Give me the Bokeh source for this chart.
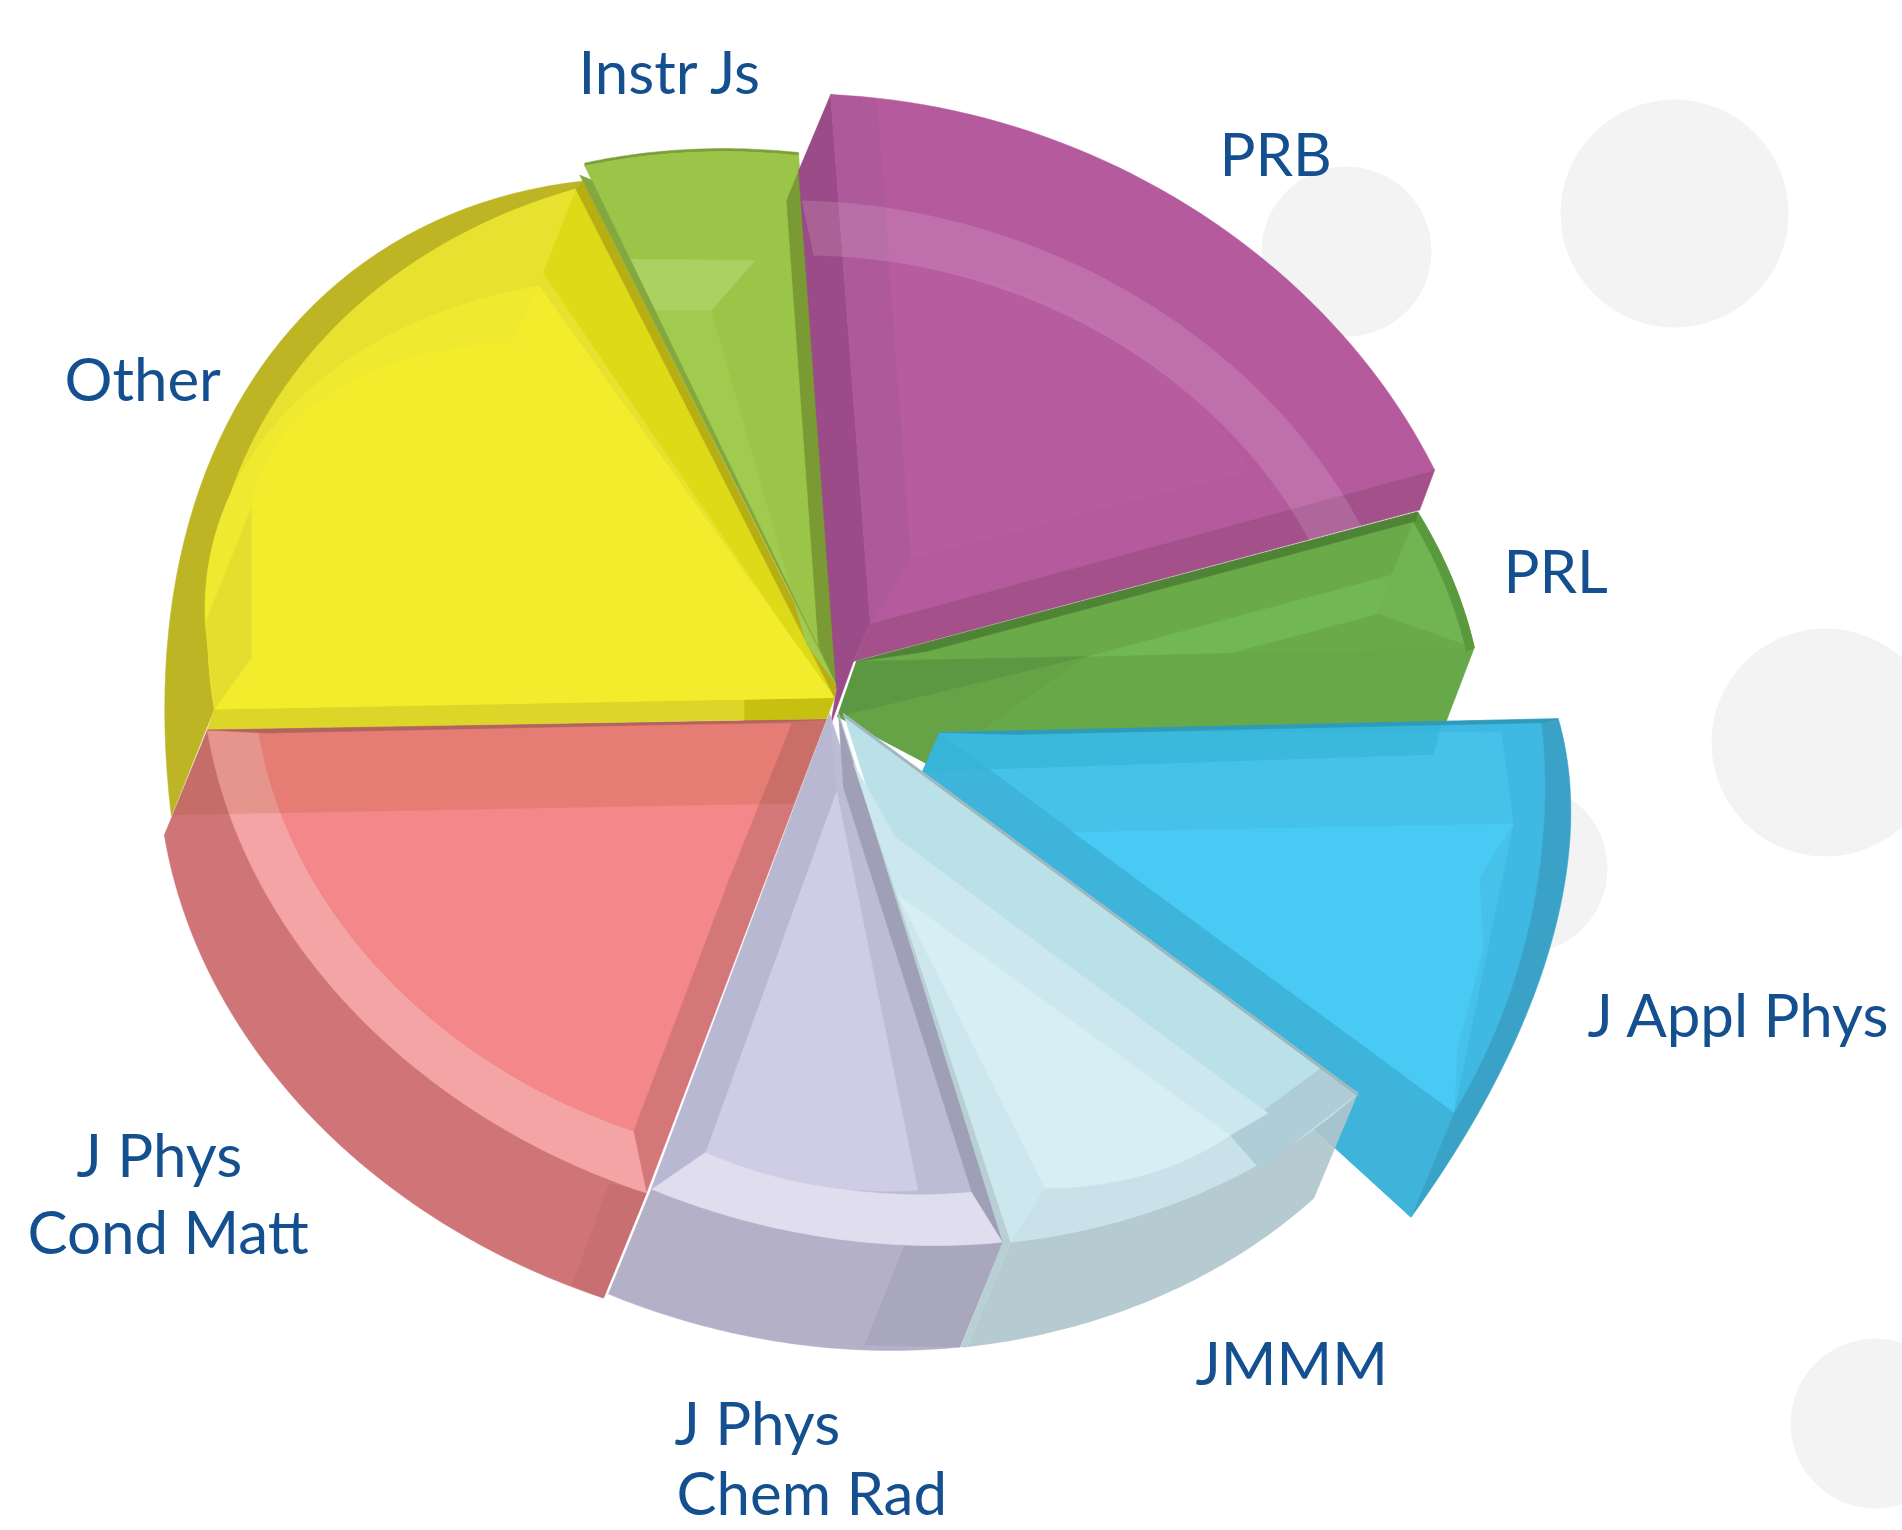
import math
from bokeh.plotting import figure
from bokeh.embed import file_html
from bokeh.resources import INLINE
from bokeh.core.properties import value

# ---------- data ----------
categories = ["PRB", "PRL", "J Appl Phys", "JMMM", "J Phys Chem Rad", "J Phys Cond Matt", "Other", "Instr Js"]
shares = [18.9, 4.5, 13.8, 10.1, 9.0, 17.8, 20.3, 5.6]
label_lines = ["PRB", "PRL", "J Appl Phys", "JMMM", "J Phys", "Chem Rad", "J Phys", "Cond Matt", "Other", "Instr Js"]

# ---------- projection of the tilted pie ----------
START = -89.0
CX, CY, AX, BY, SK = 845.0, 693.0, 640.0, 552.0, 60.0
N = 48

def ellipse(deg):
    t = math.radians(deg)
    return (CX + AX * math.cos(t) + SK * math.sin(t), CY + BY * math.sin(t))

bounds = {}
acc = START
for c, v in zip(categories, shares):
    bounds[c] = (acc, acc + v * 3.6)
    acc += v * 3.6

# per-slice placement: rim offset at both ends, apex, wall vector at both ends
place = {
    "PRB":              ((34, -47), (13, -26), (870, 623), (-32, 76), (-15, 40)),
    "PRL":              ((-4, 16), (-4, 0), (856, 661), (-3, 12), (-40, 105)),
    "J Appl Phys":      ((63, 75), (113, 29), (939, 732), (17, -4), (-43, 105)),
    "JMMM":             ((17, 10), (9, 3), (843, 713), (-44, 105), (-44, 105)),
    "J Phys Chem Rad":  ((1, 3), (8, -10), (829, 713), (-43, 105), (-43, 105)),
    "J Phys Cond Matt": ((3, -6), (-1, 15), (826, 719), (-43, 105), (-43, 105)),
    "Other":            ((6, -6), (-3, 17), (834, 697), (-43, 107), (7, -8)),
    "Instr Js":         ((6, -6), (2, 14), (836, 684), (0, -3), (0, -3)),
}
wall_mid = {"Other": (-32, -8), "J Appl Phys": (20, 25)}
rim_pinch = {"J Appl Phys": (-26, -10)}

def lerp(a, b, s):
    return (a[0] + (b[0] - a[0]) * s, a[1] + (b[1] - a[1]) * s)

def rim(cat, s):
    t0, t1 = bounds[cat]
    o0, o1, _, _, _ = place[cat]
    e = ellipse(t0 + (t1 - t0) * s)
    o = lerp(o0, o1, s)
    pin = rim_pinch.get(cat, (0, 0))
    k = 4 * s * (1 - s)
    return (e[0] + o[0] + k * pin[0], e[1] + o[1] + k * pin[1])

def arc_pts(cat, d0=(0, 0), d1=(0, 0), s0=0.0, s1=1.0):
    p0, p1 = rim(cat, 0), rim(cat, 1)
    c0 = (p0[0] + d0[0], p0[1] + d0[1])
    c1 = (p1[0] + d1[0], p1[1] + d1[1])
    g = math.dist(c0, c1) / math.dist(p0, p1)
    pts = []
    for i in range(N + 1):
        u = s0 + (s1 - s0) * i / N
        p = rim(cat, u)
        ch = lerp(p0, p1, u)
        q = lerp(c0, c1, u)
        pts.append((q[0] + g * (p[0] - ch[0]), q[1] + g * (p[1] - ch[1])))
    return pts

def wall_pts(cat):
    _, _, _, w0, w1 = place[cat]
    wm = wall_mid.get(cat, lerp(w0, w1, 0.5))
    pts = []
    for i in range(N + 1):
        u = i / N
        p = rim(cat, u)
        k0, km, k1 = (1 - u) * (1 - 2 * u), 4 * u * (1 - u), u * (2 * u - 1)
        pts.append((p[0] + k0 * w0[0] + km * wm[0] + k1 * w1[0],
                    p[1] + k0 * w0[1] + km * wm[1] + k1 * w1[1]))
    return pts

# tokens
def a(x=0, y=0): return ("a", x, y)
def s(x=0, y=0): return ("s", x, y)
def e(x=0, y=0): return ("e", x, y)
def arc(d0=(0, 0), d1=(0, 0), s0=0.0, s1=1.0): return ("arc", d0, d1, s0, s1)
def cra(d0=(0, 0), d1=(0, 0), s0=0.0, s1=1.0): return ("cra", d0, d1, s0, s1)
WALL = ("wall",)

def build(cat, tokens):
    pts = []
    apex = place[cat][2]
    p0, p1 = rim(cat, 0), rim(cat, 1)
    for t in tokens:
        k = t[0]
        if k == "a": pts.append((apex[0] + t[1], apex[1] + t[2]))
        elif k == "s": pts.append((p0[0] + t[1], p0[1] + t[2]))
        elif k == "e": pts.append((p1[0] + t[1], p1[1] + t[2]))
        elif k == "arc": pts.extend(arc_pts(cat, t[1], t[2], t[3], t[4]))
        elif k == "cra": pts.extend(reversed(arc_pts(cat, t[1], t[2], t[3], t[4])))
        elif k == "wall": pts.extend(wall_pts(cat))
    return pts

Y_IN1 = ((-9, -86), (-37, 97))
Y_IN2 = ((37, -201), (-64, 154))

# each layer: colour, alpha, outline tokens
layers = {
    "Other": [
        ("#bdb524", 1, [WALL, cra()]),
        ("#dcd628", 1, [s(), a(), a(-8, 21), s(-7, 21)]),
        ("#c6c010", 1, [a(-90, 2), a(), a(-8, 21), a(-90, 24)]),
        ("#dddb18", 1, [arc(), a()]),
        ("#e7e22f", 1, [arc(), e(-33, 84), a(-37, -51), a()]),
        ("#efea30", 1, [arc(*Y_IN1), a(-37, -51), a(), s()]),
        ("#f3ec2d", 1, [s(37, -51), arc(*Y_IN2), e(-37, 97), a(-37, -51), a(), s()]),
        ("#e4df2e", 1, [s(), s(37, -51), s(37, -201), s(-9, -86)]),
        ("#b7ae11", 1, [e(), e(7, -8), a(2, -11), a()]),
    ],
    "Instr Js": [
        ("#7c9f38", 1, [WALL, cra()]),
        ("#9bc548", 1, [arc(), a()]),
        ("#a1cb4f", 1, [a(-188, -374), a(-125, -374), a(-30, -40), a()]),
        ("#aad161", 1, [s(37, 93), e(-44, 105), a(-125, -374), a(-188, -374)]),
        ("#84a83f", 1, [s(-5, 9), s(7, 14), a()]),
        ("#7a9a33", 1, [e(1, 13), a(1, 2), a(-18, -39), e(-12, 45)]),
    ],
    "PRB": [
        ("#9b4b87", 1, [s(), s(-32, 76), a(-34, 66), a(-40, 102), a(-17, 38), a()]),
        ("#b65a9e", 1, [arc(), a()]),
        ("#b85ca0", 1, [arc((12, 168), (-184, 1)), a(40, -65)]),
        ("#ae5a9a", 1, [s(), s(46, 5), a(40, -65), a()]),
        ("#a4508b", 1, [a(), e(), e(-15, 40), a(-17, 38)]),
        ("#ffffff", 0.13, [arc((-29, 106), (-73, 57)), cra((-17, 161), (-125, 71))]),
    ],
    "PRL": [
        ("#67a848", 1, [arc(), e(-40, 105), a(74, 104), a(-19, 55), a()]),
        ("#6aaa49", 1, [arc(), a()]),
        ("#65a346", 1, [a(-19, 55), a(229, -5), a(74, 104)]),
        ("#5c9742", 1, [a(), a(229, -5), a(-19, 55)]),
        ("#71b752", 1, [a(232, -5), s(-26, 63), e(-96, -34), e(-242, 5)]),
        ("#71b553", 1, [s(), e(), e(-96, -34), s(-26, 63)]),
        ("#5a9a3e", 1, [arc(), cra((-8, 4), (-8, 4))]),
        ("#4f8436", 1, [a(), s(), s(-2, 9), a(70, -10)]),
    ],
    "J Appl Phys": [
        ("#3aa2c6", 1, [WALL, a(-17, 39), a()]),
        ("#3fb4db", 1, [a(), e(), e(-43, 105), a(-17, 39)]),
        ("#3fb9e3", 1, [arc(), a()]),
        ("#46c2ea", 1, [s(-28, 101), s(-40, 10), a(), e()]),
        ("#49caf5", 1, [a(134, 100), s(-28, 101), s(-62, 154), s(-58, 226), e(3, -64), e()]),
        ("#35b5d5", 0.7, [a(), s(-100, 3), s(-108, 32), a(-15, 39)]),
        ("#2f9bb8", 1, [a(), s(17, -4), s(), a(75, 2)]),
    ],
    "J Phys Cond Matt": [
        ("#cf7578", 1, [WALL, cra()]),
        ("#c76f71", 1, [s(), s(-43, 105), s(-74, 92), s(-37, -9)]),
        ("#d47779", 1, [arc(), a()]),
        ("#f5a4a5", 1, [arc(), cra((-13, -62), (51, 0))]),
        ("#f48789", 1, [arc((-13, -62), (51, 0)), a(-35, 4), a(-97, 158)]),
        ("#903f00", 0.14, [e(), a(), a(-33, 84), e(-35, 85)]),
        ("#b1645c", 1, [a(), e(), e(60, 3), a(-60, 3)]),
    ],
    "J Phys Chem Rad": [
        ("#b3b0c8", 1, [WALL, cra()]),
        ("#a8a7be", 1, [s(-98, 3), s(), s(-43, 105), s(-138, 103)]),
        ("#bcbcd6", 1, [arc(), a()]),
        ("#dfddee", 1, [arc(), cra((-31, -50), (54, -37))]),
        ("#cfcde6", 1, [arc((-85, -52), (54, -37)), a(7, 77)]),
        ("#9f9fb7", 1, [a(9, 0), s(), s(-31, -50), a(14, 74)]),
        ("#b9b8d2", 1, [a(), e(), e(54, -37), a(7, 77)]),
    ],
    "JMMM": [
        ("#afc5cd", 0.92, [WALL, cra()]),
        ("#b8cfd4", 1, [e(), e(-44, 105), e(-50, 105), e(-8, 0)]),
        ("#b8cfd4", 1, [a(-5, 0), e(-8, 0), e()]),
        ("#bae0e8", 1, [arc(), a()]),
        ("#c9e2e9", 1, [arc(), cra((-37, -25), (34, -54))]),
        ("#afcdd7", 1, [s(), s(-37, -25), s(-128, 42), s(-98, 76)]),
        ("#cde7ee", 1, [a(52, 124), s(-90, 20), s(-128, 42), a(54, 181), e(34, -54), e(), a(10, 50)]),
        ("#d6eef4", 1, [arc((-128, 42), (34, -54)), a(54, 181)]),
        ("#9eb6bc", 1, [a(), s(), s(0, 3), a(0, 3)]),
    ],
}
draw_order = ["Other", "Instr Js", "PRB", "PRL", "J Appl Phys", "J Phys Cond Matt", "J Phys Chem Rad", "JMMM"]

# decorative background discs
disc_x, disc_y, disc_r = [1346, 1674, 1825, 1522, 1875], [251, 213, 742, 868, 1423], [85, 114, 114, 85, 85]
# label anchors (SVG text sits lower than the anchor)
TEXT_DY = 27
label_x = [1219, 1503, 1587, 1195, 674, 676, 76, 27, 64, 578]
label_y = [179, 596, 1040, 1388, 1448, 1518, 1180, 1257, 404, 97]

p = figure(width=1902, height=1530, x_range=(0, 1902), y_range=(1530, 0),
           output_backend="svg", toolbar_location=None, min_border=0)
p.axis.visible = False
p.grid.visible = False
p.outline_line_color = None
p.background_fill_color = "#ffffff"
p.border_fill_color = "#ffffff"

p.circle(disc_x, disc_y, radius=disc_r, fill_color="#f3f3f3", line_color=None)

for cat in draw_order:
    for color, alpha, tokens in layers[cat]:
        pts = build(cat, tokens)
        p.patch([q[0] for q in pts], [q[1] for q in pts], fill_color=color, fill_alpha=alpha,
                line_color=color if alpha == 1 else None, line_width=0.5)

p.text(label_x, [y - TEXT_DY for y in label_y], text=label_lines, text_font=value("Lato"),
       text_font_size="60px", text_color="#14508f", text_align="left", text_baseline="alphabetic")

open("out.html", "w").write(file_html(p, INLINE))
